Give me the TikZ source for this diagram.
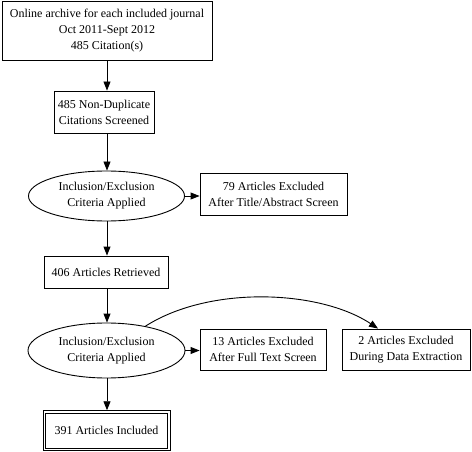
\documentclass[tikz,border=0pt]{standalone}
\usepackage{fontspec}
\setmainfont{Liberation Serif}
\usetikzlibrary{arrows.meta,shapes.geometric}
\begin{document}
\begin{tikzpicture}[x=1pt,y=-1pt,
  every node/.style={font=\fontsize{12}{16}\selectfont, align=center, inner sep=0pt, line width=0.9pt},
  box/.style={draw, rectangle},
  oval/.style={draw, ellipse},
  conn/.style={line width=0.9pt, -{Triangle[length=9pt,width=7pt]}}]
\useasboundingbox (0,0) rectangle (472,452);
\node[box, minimum width=210pt, minimum height=59pt] (src) at (107,30.5) {Online archive for each included journal\\Oct 2011-Sept 2012\\485 Citation(s)};
\node[box, minimum width=100pt, minimum height=42pt] (nodup) at (104,112) {485 Non-Duplicate\\Citations Screened};
\node[oval, minimum width=156pt, minimum height=50pt] (crit1) at (106.5,196) {Inclusion/Exclusion\\Criteria Applied};
\node[box, minimum width=147pt, minimum height=42pt] (ex79) at (273.5,194) {79 Articles Excluded\\After Title/Abstract Screen};
\node[box, minimum width=124pt, minimum height=32pt] (ret) at (106,272) {406 Articles Retrieved};
\node[oval, minimum width=157pt, minimum height=55pt] (crit2) at (106.5,350.5) {Inclusion/Exclusion\\Criteria Applied};
\node[box, minimum width=126pt, minimum height=41pt] (ex13) at (263,349.5) {13 Articles Excluded\\After Full Text Screen};
\node[box, minimum width=128pt, minimum height=41pt] (ex2) at (406,349.5) {2 Articles Excluded\\During Data Extraction};
\node[box, minimum width=127pt, minimum height=40pt] (inc) at (106.5,430.7) {391 Articles Included};
\draw[line width=0.9pt] ([shift={(3,3)}]inc.north west) rectangle ([shift={(-3,-3)}]inc.south east);
\draw[conn] (src.south -| 107,0) -- (nodup.north -| 107,0);
\draw[conn] (nodup.south -| 107,0) -- (crit1.north -| 107,0);
\draw[conn] (crit1.east) -- (ex79.west |- crit1.east);
\draw[conn] (crit1.south -| 107,0) -- (ret.north -| 107,0);
\draw[conn] (ret.south -| 107,0) -- (crit2.north -| 107,0);
\draw[conn] (crit2.east) -- (ex13.west |- crit2.east);
\coordinate (ex2in) at ([xshift=-28pt]ex2.north);
\draw[conn] (crit2.32) .. controls (210,285) and (320,290) .. (ex2in);
\draw[conn] (crit2.south -| 107,0) -- (inc.north -| 107,0);
\end{tikzpicture}
\end{document}
